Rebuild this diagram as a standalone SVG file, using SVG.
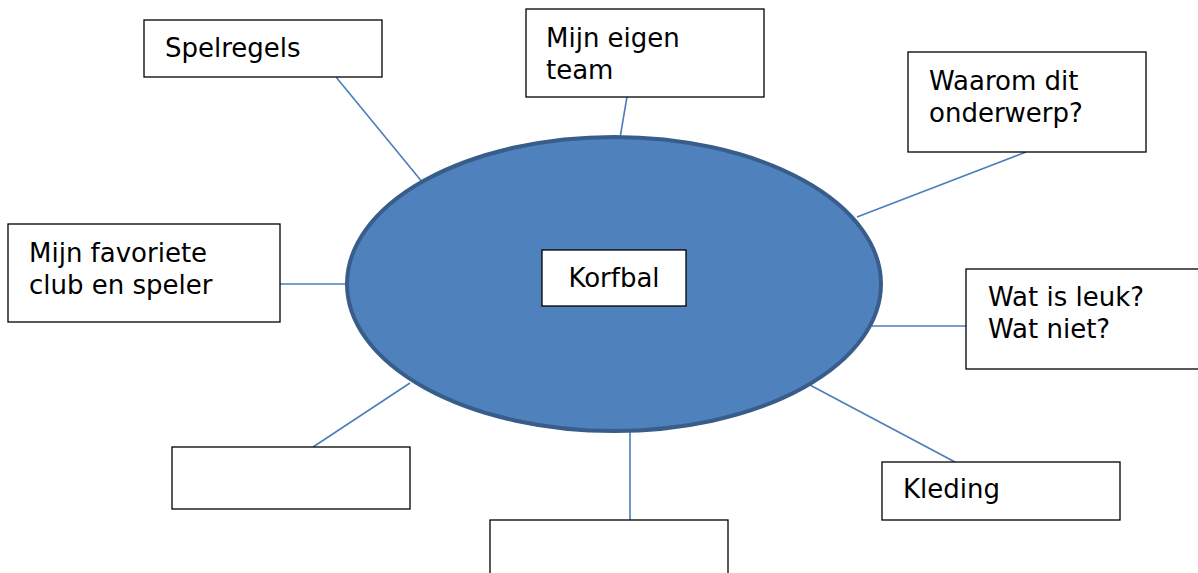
<svg xmlns="http://www.w3.org/2000/svg" width="1198" height="573" viewBox="0 0 1198 573">
<style>
.box{fill:#fff;stroke:#000;stroke-width:1.3}
.t{font-family:"DejaVu Sans","Verdana",sans-serif;font-size:26px;fill:#000}
.c{stroke:#4A7EBB;stroke-width:1.6;fill:none}
</style>
<rect width="1198" height="573" fill="#fff"/>
<g id="connectors">
<line class="c" x1="336" y1="77" x2="423" y2="183"/>
<line class="c" x1="630" y1="79" x2="620" y2="138"/>
<line class="c" x1="1026" y1="152" x2="857" y2="217"/>
<line class="c" x1="280" y1="284" x2="348" y2="284"/>
<line class="c" x1="872" y1="326" x2="966" y2="326"/>
<line class="c" x1="313" y1="447" x2="410" y2="383"/>
<line class="c" x1="630" y1="430" x2="630" y2="520"/>
<line class="c" x1="808" y1="384" x2="955" y2="462"/>
</g>
<g id="center">
<ellipse cx="614" cy="284" rx="267" ry="147" fill="#4F81BD" stroke="#385D8A" stroke-width="4"/>
</g>
<g id="korfbal">
<rect class="box" x="542" y="250" width="144" height="56"/>
<text class="t" x="614" y="287" text-anchor="middle">Korfbal</text>
</g>
<g id="spelregels">
<rect class="box" x="144" y="20" width="238" height="57"/>
<text class="t" x="165" y="57">Spelregels</text>
</g>
<g id="eigen-team">
<rect class="box" x="526" y="9" width="238" height="88"/>
<text class="t" x="546" y="47">Mijn eigen</text>
<text class="t" x="546" y="79">team</text>
</g>
<g id="waarom">
<rect class="box" x="908" y="52" width="238" height="100"/>
<text class="t" x="929" y="90">Waarom dit</text>
<text class="t" x="929" y="122">onderwerp?</text>
</g>
<g id="favoriete">
<rect class="box" x="8" y="224" width="272" height="98"/>
<text class="t" x="29" y="262">Mijn favoriete</text>
<text class="t" x="29" y="294">club en speler</text>
</g>
<g id="leuk">
<rect class="box" x="966" y="269" width="240" height="100"/>
<text class="t" x="988" y="306">Wat is leuk?</text>
<text class="t" x="988" y="338">Wat niet?</text>
</g>
<g id="leeg-links">
<rect class="box" x="172" y="447" width="238" height="62"/>
</g>
<g id="leeg-onder">
<rect class="box" x="490" y="520" width="238" height="70"/>
</g>
<g id="kleding">
<rect class="box" x="882" y="462" width="238" height="58"/>
<text class="t" x="903" y="498">Kleding</text>
</g>
</svg>
